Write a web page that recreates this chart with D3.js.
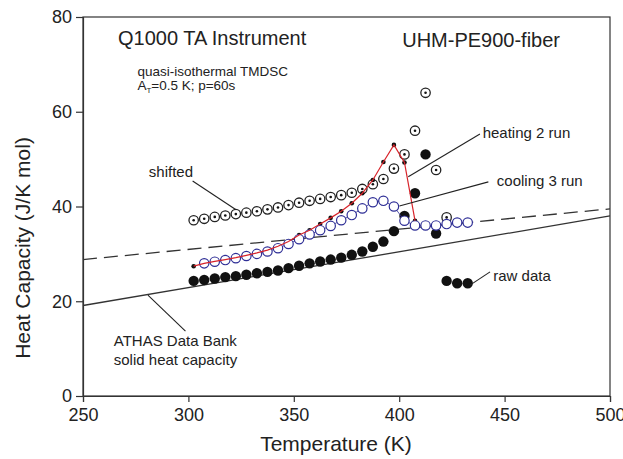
<!DOCTYPE html>
<html>
<head>
<meta charset="utf-8">
<script src="https://cdn.jsdelivr.net/npm/d3@7"></script>
<style>
  body { margin: 0; background: #fff; }
  svg { display: block; font-family: "Liberation Sans", Arial, Helvetica, sans-serif; }
</style>
</head>
<body>
<svg></svg>
<script>
// values (K, J/K mol)
var shiftedT = [302.5, 307.5, 312.5, 317.5, 322.5, 327.5, 332.5, 337.5, 342.5, 347.5, 352.5, 357.5, 362.5,
    367.5, 372.5, 377.5, 382.5, 387.5, 392.5, 397.5, 402.5, 407.5, 412.5, 417.5, 422.5];
var shiftedCp = [37.1, 37.4, 37.8, 38.1, 38.4, 38.7, 39.0, 39.4, 39.8, 40.3, 40.8, 41.2, 41.6,
    42.0, 42.4, 42.9, 43.7, 44.7, 45.8, 48.0, 51.0, 56.0, 64.0, 47.7, 37.7];

var heatingT = [302.5, 307.5, 312.5, 317.5, 322.5, 327.5, 332.5, 337.5, 342.5, 347.5, 352.5, 357.5,
    362.5, 367.5, 372.5, 377.5, 382.5, 387.5, 392.5, 397.5, 402.5, 407.5];
var heatingCp = [27.4, 28.0, 28.4, 28.8, 29.2, 29.7, 30.2, 30.8, 31.6, 32.6, 34.0, 35.0,
    36.3, 37.6, 39.0, 40.7, 42.8, 45.6, 49.4, 53.0, 49.3, 37.0];

var coolingT = [307.5, 312.5, 317.5, 322.5, 327.5, 332.5, 337.5, 342.5, 347.5, 352.5, 357.5, 362.5, 367.5,
    372.5, 377.5, 382.5, 387.5, 392.5, 397.5, 402.5, 407.5, 412.5, 417.5, 422.5, 427.5, 432.5];
var coolingCp = [28.0, 28.35, 28.7, 29.1, 29.55, 30.0, 30.5, 31.2, 32.1, 33.1, 34.1, 35.0, 35.9,
    37.1, 38.2, 39.6, 40.9, 41.2, 40.0, 37.0, 36.0, 36.0, 36.0, 36.3, 36.6, 36.6];

var rawT = [302.5, 307.5, 312.5, 317.5, 322.5, 327.5, 332.5, 337.5, 342.5, 347.5, 352.5, 357.5, 362.5, 367.5,
    372.5, 377.5, 382.5, 387.5, 392.5, 397.5, 402.5, 407.5, 412.5, 417.5, 422.5, 427.5, 432.5];
var rawCp = [24.3, 24.5, 24.8, 25.1, 25.3, 25.6, 25.9, 26.2, 26.5, 27.0, 27.5, 28.0, 28.4, 28.8,
    29.2, 29.8, 30.5, 31.5, 32.6, 34.8, 38.0, 42.8, 51.0, 34.3, 24.3, 23.8, 23.8];

// ATHAS solid heat capacity and the dashed reference
var athasT = [250, 500];
var athasCp = [19.1, 38.0];
var dashT = [250, 500];
var dashCp = [28.8, 39.5];

var xTicks = [250, 300, 350, 400, 450, 500];
var yTicks = [0, 20, 40, 60, 80];

const svgWidth = 623,
    svgHeight = 459;

var svg = d3.select('svg')
    .attr("width", svgWidth)
    .attr("height", svgHeight);

var x = d3.scaleLinear().domain([250, 500]).range([83, 610]);
var y = d3.scaleLinear().domain([0, 80]).range([396, 17]);

var axisColor = "#333";

// frame
svg.append("rect")
    .attr("x", x(250))
    .attr("y", y(80))
    .attr("width", x(500) - x(250))
    .attr("height", y(0) - y(80))
    .attr("fill", "none")
    .attr("stroke", axisColor)
    .attr("stroke-width", 1.2);

var xAxis = d3.axisBottom(x).tickValues(xTicks).tickSize(6).tickPadding(6).tickFormat(d3.format("d"));
var yAxis = d3.axisLeft(y).tickValues(yTicks).tickSize(7).tickPadding(4).tickFormat(d3.format("d"));

svg.append("g")
    .attr("transform", "translate(0," + y(0) + ")")
    .call(xAxis);

svg.append("g")
    .attr("transform", "translate(" + x(250) + ",0)")
    .call(yAxis);

svg.selectAll(".domain").attr("stroke", axisColor).attr("stroke-width", 1.2);
svg.selectAll(".tick line").attr("stroke", axisColor).attr("stroke-width", 1.2);
svg.selectAll(".tick text")
    .attr("font-size", 18)
    .attr("font-family", "Liberation Sans, Arial, sans-serif")
    .attr("fill", "#222");

// axis titles
svg.append("text")
    .attr("x", 336)
    .attr("y", 451)
    .attr("text-anchor", "middle")
    .attr("font-size", 21)
    .attr("fill", "#222")
    .text("Temperature (K)");

svg.append("text")
    .attr("transform", "translate(30,248) rotate(-90)")
    .attr("text-anchor", "middle")
    .attr("font-size", 21)
    .attr("fill", "#222")
    .text("Heat Capacity (J/K mol)");

var line = d3.line().x(d => x(d[0])).y(d => y(d[1]));
var zip = (a, b) => a.map((v, i) => [v, b[i]]);

// reference lines
svg.append("path")
    .datum(zip(athasT, athasCp))
    .attr("d", line)
    .attr("fill", "none")
    .attr("stroke", "#333")
    .attr("stroke-width", 1.3);

svg.append("path")
    .datum(zip(dashT, dashCp))
    .attr("d", line)
    .attr("fill", "none")
    .attr("stroke", "#333")
    .attr("stroke-width", 1.3)
    .attr("stroke-dasharray", "14,7");

// raw data - big filled dots
svg.append("g").selectAll("circle")
    .data(zip(rawT, rawCp))
    .enter().append("circle")
    .attr("cx", d => x(d[0]))
    .attr("cy", d => y(d[1]))
    .attr("r", 5.2)
    .attr("fill", "#111");

// shifted - open circles with centre dot
var sh = svg.append("g").selectAll("g")
    .data(zip(shiftedT, shiftedCp))
    .enter().append("g")
    .attr("transform", d => "translate(" + x(d[0]) + "," + y(d[1]) + ")");
sh.append("circle").attr("r", 4.7).attr("fill", "#fff").attr("stroke", "#222").attr("stroke-width", 1.3);
sh.append("circle").attr("r", 1.3).attr("fill", "#111");

// heating 2 run dots sit under the cooling circles
svg.append("g").selectAll("circle")
    .data(zip(heatingT, heatingCp))
    .enter().append("circle")
    .attr("cx", d => x(d[0]))
    .attr("cy", d => y(d[1]))
    .attr("r", 2.3)
    .attr("fill", "#111");

// cooling 3 run - blue open circles
svg.append("path")
    .datum(zip(coolingT, coolingCp))
    .attr("d", line)
    .attr("fill", "none")
    .attr("stroke", "#2e2e96")
    .attr("stroke-width", 0.8);

svg.append("g").selectAll("circle")
    .data(zip(coolingT, coolingCp))
    .enter().append("circle")
    .attr("cx", d => x(d[0]))
    .attr("cy", d => y(d[1]))
    .attr("r", 4.7)
    .attr("fill", "#fff")
    .attr("stroke", "#2e2e96")
    .attr("stroke-width", 1.2);

// heating 2 run red line on top
svg.append("path")
    .datum(zip(heatingT, heatingCp))
    .attr("d", line)
    .attr("fill", "none")
    .attr("stroke", "#d8232a")
    .attr("stroke-width", 1.2);

// annotations
function label(t, v, txt, size, anchor) {
    return svg.append("text")
        .attr("x", x(t))
        .attr("y", y(v))
        .attr("font-size", size)
        .attr("text-anchor", anchor || "start")
        .attr("fill", "#222")
        .text(txt);
}
function leader(t1, v1, t2, v2) {
    svg.append("line")
        .attr("x1", x(t1)).attr("y1", y(v1))
        .attr("x2", x(t2)).attr("y2", y(v2))
        .attr("stroke", "#222")
        .attr("stroke-width", 1.1);
}

label(266.6, 74.1, "Q1000 TA Instrument", 20);
label(476.3, 73.7, "UHM-PE900-fiber", 20, "end");
label(275.8, 67.5, "quasi-isothermal TMDSC", 13.5);
var at = label(275.8, 64.5, "A", 13.5);
at.append("tspan").attr("font-size", 8).attr("dy", 3).text("T");
at.append("tspan").attr("dy", -3).text("=0.5 K; p=60s");

label(439.6, 54.4, "heating 2 run", 15);
leader(438.3, 55.3, 404.3, 46.3);
label(446.3, 44.3, "cooling 3 run", 15);
leader(442.3, 45.2, 400.1, 40.1);
label(302.2, 46.3, "shifted", 15, "end");
leader(302, 45.4, 322.6, 39.3);
label(444.6, 24.3, "raw data", 15);
leader(443.1, 26.2, 433.6, 23.4);
label(264.6, 10.5, "ATHAS Data Bank", 15);
label(264.6, 6.6, "solid heat capacity", 15);
leader(298.6, 13.7, 280.8, 21.3);
</script>
</body>
</html>
